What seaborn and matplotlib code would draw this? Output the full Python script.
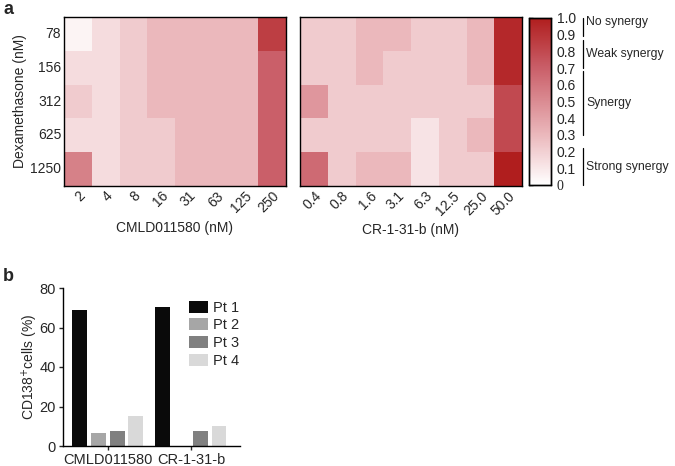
import numpy as np
import pandas as pd
import matplotlib.pyplot as plt
import seaborn as sns
from matplotlib.colors import LinearSegmentedColormap

# Heatmap data (synergy score)
dex_labels = ['78', '156', '312', '625', '1250']
cmld_labels = ['2', '4', '8', '16', '31', '63', '125', '250']
cr_labels = ['0.4', '0.8', '1.6', '3.1', '6.3', '12.5', '25.0', '50.0']

cmld_vals = [
    [0.05, 0.15, 0.22, 0.30, 0.30, 0.30, 0.30, 0.85],
    [0.15, 0.15, 0.22, 0.30, 0.30, 0.30, 0.30, 0.70],
    [0.22, 0.15, 0.22, 0.30, 0.30, 0.30, 0.30, 0.70],
    [0.15, 0.15, 0.22, 0.22, 0.30, 0.30, 0.30, 0.70],
    [0.55, 0.15, 0.22, 0.22, 0.30, 0.30, 0.30, 0.70],
]
cr_vals = [
    [0.22, 0.22, 0.30, 0.30, 0.22, 0.22, 0.30, 0.95],
    [0.22, 0.22, 0.30, 0.22, 0.22, 0.22, 0.30, 0.95],
    [0.45, 0.22, 0.22, 0.22, 0.22, 0.22, 0.22, 0.80],
    [0.22, 0.22, 0.22, 0.22, 0.12, 0.22, 0.30, 0.80],
    [0.65, 0.22, 0.30, 0.30, 0.12, 0.22, 0.22, 1.00],
]

# Bar data
drugs = ['CMLD011580', 'CR-1-31-b']
patients = ['Pt 1', 'Pt 2', 'Pt 3', 'Pt 4']
pt1 = [69, 70.5]
pt2 = [6.5, 0]
pt3 = [7.5, 7.5]
pt4 = [15, 10]
bar_colors = ['#0a0a0a', '#a6a6a6', '#808080', '#d9d9d9']

sns.set_style('white')
plt.rcParams['font.family'] = ['Liberation Sans', 'DejaVu Sans']
plt.rcParams['font.size'] = 10

cmap = LinearSegmentedColormap.from_list(
    'syn', [(0, '#ffffff'), (0.3, '#ebb8bc'), (0.7, '#ca5f69'), (1.0, '#b01e1e')])

fig = plt.figure(figsize=(6.75, 4.66), dpi=100)
W, H = 675, 466
def box(x0, y0, x1, y1):
    return [x0 / W, 1 - y1 / H, (x1 - x0) / W, (y1 - y0) / H]

ax1 = fig.add_axes(box(64, 17, 286, 186))
ax2 = fig.add_axes(box(300, 17, 522, 186))
cax = fig.add_axes(box(529, 18, 551, 185))

df1 = pd.DataFrame(cmld_vals, index=dex_labels, columns=cmld_labels)
df2 = pd.DataFrame(cr_vals, index=dex_labels, columns=cr_labels)

sns.heatmap(df1, ax=ax1, cmap=cmap, vmin=0, vmax=1, cbar=False)
sns.heatmap(df2, ax=ax2, cmap=cmap, vmin=0, vmax=1, cbar_ax=cax)

for ax in (ax1, ax2):
    for s in ax.spines.values():
        s.set_visible(True)
        s.set_color('black')
        s.set_linewidth(1.0)
    ax.tick_params(length=0, pad=2)
    plt.setp(ax.get_xticklabels(), rotation=45, ha='right', rotation_mode='anchor')

ax1.set_yticklabels(dex_labels, rotation=0)
ax1.set_ylabel('Dexamethasone (nM)', labelpad=2)
ax1.set_xlabel('CMLD011580 (nM)', labelpad=4)
ax2.set_yticks([])
ax2.set_ylabel('')
ax2.set_xlabel('CR-1-31-b (nM)', labelpad=4)

cb_ticks = np.round(np.arange(0, 1.01, 0.1), 1)
cax.set_yticks(cb_ticks)
cax.set_yticklabels(['0'] + ['%.1f' % t for t in cb_ticks[1:]])
cax.get_yticklabels()[0].set_fontfamily('Liberation Serif')
cax.tick_params(axis='y', left=True, right=False, labelleft=False, labelright=True,
                direction='in', length=3, width=1, pad=4)
for s in cax.spines.values():
    s.set_visible(True)
    s.set_color('black')
    s.set_linewidth(1.0)

# synergy brackets
ranges = [(1.0, 0.89, 'No synergy'), (0.87, 0.7, 'Weak synergy'),
          (0.68, 0.3, 'Synergy'), (0.22, 0.0, 'Strong synergy')]
for top, bot, lab in ranges:
    cax.plot([2.45, 2.45], [bot, top], color='black', lw=0.9,
             transform=cax.get_yaxis_transform(), clip_on=False)
    cax.text(2.6, (top + bot) / 2 + (0.03 if lab == 'No synergy' else 0), lab,
             transform=cax.get_yaxis_transform(), va='center', ha='left', fontsize=8.8)

# Panel b
bx = fig.add_axes(box(63, 288, 240, 446))
bar_df = pd.DataFrame({
    'drug': drugs * 4,
    'pt': [p for p in patients for _ in drugs],
    'val': pt1 + pt2 + pt3 + pt4,
})
sns.barplot(data=bar_df, x='drug', y='val', hue='pt', palette=bar_colors,
            width=0.9, gap=0.2, linewidth=0, ax=bx)
bx.set_xlim(-0.54, 1.59)
bx.set_ylim(0, 80)
bx.set_yticks([0, 20, 40, 60, 80])
bx.set_xlabel('')
bx.set_ylabel('CD138$^{+}$cells (%)', labelpad=0)
sns.despine(ax=bx)
for s in ('left', 'bottom'):
    bx.spines[s].set_color('black')
    bx.spines[s].set_linewidth(1.0)
bx.tick_params(axis='both', direction='out', length=3, width=1, left=True, bottom=True, pad=2)
bx.tick_params(axis='both', labelsize=10.5)
leg = bx.legend(loc='upper left', bbox_to_anchor=(0.68, 0.957), frameon=False,
                handlelength=1.3, handleheight=0.9, handletextpad=0.3, labelspacing=0.25,
                borderaxespad=0, fontsize=10.5)

fig.text(3 / W, 1 - 14 / H, 'a', fontsize=13, fontweight='bold', va='baseline')
fig.text(3 / W, 1 - 281 / H, 'b', fontsize=13, fontweight='bold', va='baseline')

fig.savefig('out.png', dpi=100)
